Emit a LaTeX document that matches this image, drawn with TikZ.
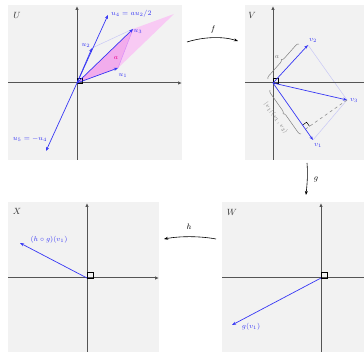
\documentclass[tikz,border=0pt]{standalone}
\usetikzlibrary{calc,arrows.meta,decorations.pathreplacing}
\definecolor{vecblue}{RGB}{55,55,245}
\definecolor{lilac}{RGB}{200,200,246}
\definecolor{panelgray}{RGB}{242,242,242}
\definecolor{axisgray}{RGB}{85,85,85}
\definecolor{pinklight}{RGB}{248,202,244}
\definecolor{pinkdark}{RGB}{242,172,236}
\tikzset{
	panel/.style = {fill = panelgray, draw = none},
	axis/.style = {axisgray, line width = 1pt},
	axisarrow/.style = {axis, -{Latex[length = 4pt, width = 3.5pt]}},
	vec/.style = {vecblue, line width = 0.7pt, -{Stealth[length = 4pt, width = 3pt]}},
	veclabel/.style = {text = vecblue, font = \fontsize{7}{8}\selectfont, inner sep = 1pt},
	spacelabel/.style = {text = black!80, font = \fontsize{9}{10}\selectfont, inner sep = 0pt},
	maplabel/.style = {font = \fontsize{8}{9}\selectfont, inner sep = 0pt},
	map/.style = {black, line width = 0.6pt, -{Stealth[length = 4pt, width = 3pt]}},
	rightangle/.style = {black, line width = 0.5pt},
	bracegray/.style = {gray, line width = 0.5pt, decorate, decoration = {brace, amplitude = 3pt}}
}
\begin{document}
\begin{tikzpicture}[x = 1pt, y = -1pt]
	\useasboundingbox (0,0) rectangle (364,352);
	% panels
	\fill[panel] (8,5) rectangle (182,160);
	\fill[panel] (245,5) rectangle (364,160);
	\fill[panel] (8,202) rectangle (159,352);
	\fill[panel] (222,202) rectangle (364,352);

	% panel U
	\coordinate (Uo) at (77,83);
	\coordinate (u1) at (118,68);
	\coordinate (u2) at (92,48);
	\coordinate (u3) at (133,29);
	\coordinate (u4) at (108,15);
	\coordinate (u5) at (46,151);
	\fill[pinklight] (Uo) -- (u1) -- ($(u1)+(u3)-(Uo)$) -- (u3) -- cycle;
	\fill[pinkdark] (Uo) -- (u1) -- (u3) -- cycle;
	\draw[lilac, line width = 0.5pt] (u2) -- (u3);
	\draw[lilac!70!magenta, line width = 0.5pt] (u1) -- (u3);
	\draw[axisarrow] (8,83) -- (182,83);
	\draw[axisarrow] (77,160) -- (77,6);
	\draw[rightangle] (Uo) rectangle ++(5,-5);
	\draw[vec] (Uo) -- (u1);
	\draw[vec] (Uo) -- (u2);
	\draw[vec] (Uo) -- (u3);
	\draw[vec] (Uo) -- (u4);
	\draw[vec] (Uo) -- (u5);
	\node[spacelabel] (labU) at (17,15) {$U$};
	\node[veclabel] (labu1) at (123,75) {$u_1$};
	\node[veclabel] (labu2) at (86,45) {$u_2$};
	\node[veclabel] (labu3) at (138,31) {$u_3$};
	\node[veclabel, right] (labu4) at (110,14) {$u_4 = au_2/2$};
	\node[veclabel] (labu5) at (30,139) {$u_5 = -u_4$};
	\node[text = magenta, font = \fontsize{7}{8}\selectfont] (laba) at (116,58) {$a$};

	% panel V
	\coordinate (Vo) at (273,83);
	\coordinate (v1) at (313,140);
	\coordinate (v2) at (308,45);
	\coordinate (v3) at (347,100);
	\coordinate (pv) at ($(Vo)!(v3)!(v1)$);
	\draw[lilac, line width = 0.5pt] (v2) -- (v3) -- (v1);
	\draw[gray, dashed, line width = 0.5pt] (v3) -- (pv);
	\draw[rightangle] ($(pv)!5pt!(Vo)$) -- ($($(pv)!5pt!(Vo)$)+($(pv)!5pt!(v3)$)-(pv)$) -- ($(pv)!5pt!(v3)$);
	\draw[axis] (245,83) -- (364,83);
	\draw[axisarrow] (273,160) -- (273,6);
	\draw[rightangle] (Vo) rectangle ++(5,-5);
	\draw[vec] (Vo) -- (v1);
	\draw[vec] (Vo) -- (v2);
	\draw[vec] (Vo) -- (v3);
	\draw[bracegray] (268,79) -- (299,44);
	\draw[bracegray] (301,134) -- (270,90);
	\node[spacelabel] (labV) at (252,15) {$V$};
	\node[veclabel] (labv1) at (318,145) {$v_1$};
	\node[veclabel] (labv2) at (313,40) {$v_2$};
	\node[veclabel] (labv3) at (354,100) {$v_3$};
	\node[text = gray, font = \fontsize{7}{8}\selectfont, inner sep = 0pt] (labbrace) at (277,57) {$a$};
	\node[text = gray, font = \fontsize{6}{7}\selectfont, inner sep = 0pt, rotate = -55] (labproj) at (276,118) {$|v_1|\langle v_1, v_3\rangle$};

	% panel X
	\coordinate (Xo) at (87,278);
	\coordinate (x1) at (20,243);
	\draw[axisarrow] (8,278) -- (159,278);
	\draw[axisarrow] (87,352) -- (87,203);
	\draw[rightangle] (Xo) rectangle ++(6,-6);
	\draw[vec] (Xo) -- (x1);
	\node[spacelabel] (labX) at (17,211) {$X$};
	\node[veclabel] (labx1) at (49,240) {$(h\circ g)(v_1)$};

	% panel W
	\coordinate (Wo) at (321,278);
	\coordinate (w1) at (232,325);
	\draw[axis] (222,278) -- (364,278);
	\draw[axisarrow] (321,352) -- (321,203);
	\draw[rightangle] (Wo) rectangle ++(6,-6);
	\draw[vec] (Wo) -- (w1);
	\node[spacelabel] (labW) at (232,212) {$W$};
	\node[veclabel] (labw1) at (251,327) {$g(v_1)$};

	% maps
	\coordinate (fa) at (187,42);
	\coordinate (fb) at (238,41);
	\coordinate (ga) at (307,163);
	\coordinate (gb) at (306,195);
	\coordinate (ha) at (216,239);
	\coordinate (hb) at (164,239);
	\draw[map] (fa) .. controls (203,37) and (222,36) .. (fb);
	\draw[map] (ga) .. controls (308,175) and (307,185) .. (gb);
	\draw[map] (ha) .. controls (200,236) and (180,236) .. (hb);
	\node[maplabel] (labf) at (213,30) {$f$};
	\node[maplabel] (labg) at (316,180) {$g$};
	\node[maplabel] (labh) at (189,227) {$h$};
\end{tikzpicture}
\end{document}
